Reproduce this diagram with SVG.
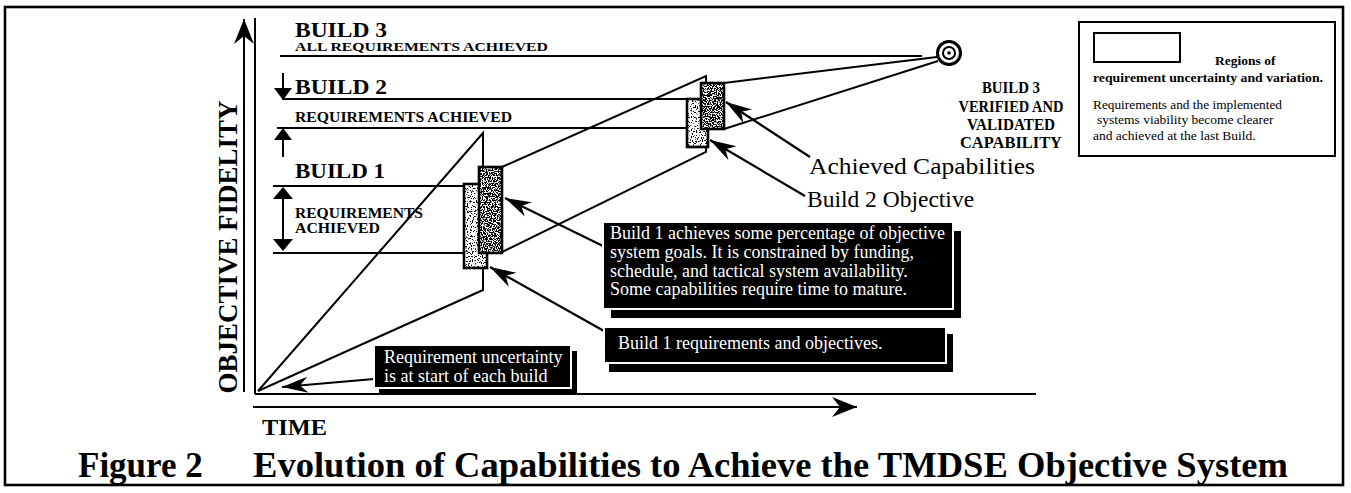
<svg xmlns="http://www.w3.org/2000/svg" width="1351" height="493" viewBox="0 0 1351 493">
  <defs>
    <style>
      .ln { stroke: #000; stroke-width: 2; fill: none; }
      .thick { stroke: #000; stroke-width: 2.6; fill: none; }
      .hd { font-family: "Liberation Serif", "Times New Roman", serif; font-weight: bold; fill: #000; }
      .rg { font-family: "Liberation Serif", "Times New Roman", serif; fill: #000; }
      .wt { font-family: "Liberation Serif", "Times New Roman", serif; fill: #fff; font-size: 18px; }
      .box { fill: #000; }
      .call { stroke: #000; stroke-width: 2.2; fill: none; marker-end: url(#barb); }
    </style>
    <!-- swept-back arrowhead used by axes and callouts -->
    <marker id="barb" viewBox="-27 -10 29 20" refX="0" refY="0" markerWidth="29" markerHeight="20" markerUnits="userSpaceOnUse" orient="auto">
      <path d="M0,0 L-26,-8 L-18,0 L-26,8 Z" fill="#000"/>
    </marker>
    <marker id="axisHead" viewBox="-27 -11 29 22" refX="0" refY="0" markerWidth="29" markerHeight="22" markerUnits="userSpaceOnUse" orient="auto">
      <path d="M0,0 L-25,-10 L-17,0 L-25,10 Z" fill="#000"/>
    </marker>
    <!-- stipple textures for uncertainty regions -->
    <filter id="grainDark" x="0" y="0" width="1" height="1" color-interpolation-filters="sRGB">
      <feTurbulence type="fractalNoise" baseFrequency="0.8" numOctaves="1" seed="7" result="n"/>
      <feColorMatrix in="n" type="matrix" values="0 0 0 0 0  0 0 0 0 0  0 0 0 0 0  16 0 0 0 -7.3" result="d"/>
      <feComposite in="d" in2="SourceAlpha" operator="in"/>
    </filter>
    <filter id="grainLight" x="0" y="0" width="1" height="1" color-interpolation-filters="sRGB">
      <feTurbulence type="fractalNoise" baseFrequency="0.8" numOctaves="1" seed="3" result="n"/>
      <feColorMatrix in="n" type="matrix" values="0 0 0 0 0  0 0 0 0 0  0 0 0 0 0  16 0 0 0 -9" result="d"/>
      <feComposite in="d" in2="SourceAlpha" operator="in"/>
    </filter>
  </defs>

  <rect width="1351" height="493" fill="#fff"/>

  <!-- page frame -->
  <rect id="frame" x="5" y="7" width="1338" height="478" class="thick"/>

  <!-- axes -->
  <g id="axes">
    <line x1="244" y1="392" x2="244" y2="19" class="ln" marker-end="url(#axisHead)"/>
    <line x1="255" y1="18" x2="255" y2="394" class="ln"/>
    <line x1="255" y1="394" x2="1036" y2="394" class="ln"/>
    <line x1="253" y1="407" x2="857" y2="407" class="ln" marker-end="url(#axisHead)"/>
    <text class="hd" font-size="27" text-anchor="middle" textLength="293" lengthAdjust="spacingAndGlyphs" transform="translate(237,247) rotate(-90)">OBJECTIVE FIDELITY</text>
    <text class="hd" x="262" y="435" font-size="23" textLength="65" lengthAdjust="spacingAndGlyphs">TIME</text>
  </g>

  <!-- connectors: requirement levels, build trajectories, callouts -->
  <g id="connectors">
    <line x1="280" y1="56" x2="922" y2="56" class="ln"/>
    <line x1="282" y1="99" x2="687" y2="99" class="ln"/>
    <line x1="277" y1="128" x2="687" y2="128" class="ln"/>
    <line x1="273" y1="186" x2="464" y2="186" class="ln"/>
    <line x1="273" y1="253" x2="464" y2="253" class="ln"/>

    <!-- build 2 range markers -->
    <line x1="283" y1="73" x2="283" y2="89" class="ln"/>
    <path d="M274,88 L292,88 L283,100 Z" fill="#000"/>
    <line x1="283" y1="139" x2="283" y2="157" class="ln"/>
    <path d="M274,140 L292,140 L283,128 Z" fill="#000"/>
    <!-- build 1 range marker -->
    <line x1="283" y1="196" x2="283" y2="242" class="ln"/>
    <path d="M273,199 L293,199 L283,187 Z" fill="#000"/>
    <path d="M273,239 L293,239 L283,251 Z" fill="#000"/>

    <!-- trajectories -->
    <polyline points="258,391 483,133 483,167" class="ln"/>
    <polyline points="258,391 483,290 483,268" class="ln"/>
    <polyline points="502,167 706,76 706,83" class="ln"/>
    <polyline points="502,252 706,152 706,147" class="ln"/>
    <line x1="724" y1="83" x2="937" y2="57" class="ln"/>
    <line x1="724" y1="129" x2="938" y2="61" class="ln"/>

    <!-- callout arrows -->
    <line x1="810" y1="157" x2="726" y2="102" class="call"/>
    <line x1="805" y1="196" x2="710" y2="140" class="call"/>
    <line x1="603" y1="246" x2="505" y2="198" class="call"/>
    <line x1="604" y1="331" x2="490" y2="267" class="call"/>
    <line x1="374" y1="379" x2="282" y2="387" class="call"/>
  </g>

  <!-- level labels -->
  <g id="build3-level">
    <text class="hd" x="295" y="37" font-size="20" textLength="92" lengthAdjust="spacingAndGlyphs">BUILD 3</text>
    <text class="hd" x="295" y="51" font-size="13.5" textLength="253" lengthAdjust="spacingAndGlyphs">ALL REQUIREMENTS ACHIEVED</text>
  </g>
  <g id="build2-level">
    <text class="hd" x="295" y="94" font-size="22" textLength="92" lengthAdjust="spacingAndGlyphs">BUILD 2</text>
    <text class="hd" x="295" y="122" font-size="15" textLength="217" lengthAdjust="spacingAndGlyphs">REQUIREMENTS ACHIEVED</text>
  </g>
  <g id="build1-level">
    <text class="hd" x="295" y="178" font-size="22" textLength="90" lengthAdjust="spacingAndGlyphs">BUILD 1</text>
    <text class="hd" x="295" y="218" font-size="14.5" textLength="128" lengthAdjust="spacingAndGlyphs">REQUIREMENTS</text>
    <text class="hd" x="295" y="233" font-size="14.5" textLength="85" lengthAdjust="spacingAndGlyphs">ACHIEVED</text>
  </g>

  <!-- build 1 uncertainty regions -->
  <g id="build1-regions">
    <rect x="464" y="184" width="23" height="84" fill="#fff"/>
    <rect x="464" y="184" width="23" height="84" class="box" filter="url(#grainLight)"/>
    <rect x="464" y="184" width="23" height="84" class="thick"/>
    <rect x="479" y="167" width="23" height="86" fill="#fff"/>
    <rect x="479" y="167" width="23" height="86" class="box" filter="url(#grainDark)"/>
    <rect x="479" y="167" width="23" height="86" class="thick"/>
  </g>

  <!-- build 2 uncertainty regions -->
  <g id="build2-regions">
    <rect x="687" y="99" width="21" height="48" fill="#fff"/>
    <rect x="687" y="99" width="21" height="48" class="box" filter="url(#grainLight)"/>
    <rect x="687" y="99" width="21" height="48" class="thick"/>
    <rect x="701" y="83" width="23" height="46" fill="#fff"/>
    <rect x="701" y="83" width="23" height="46" class="box" filter="url(#grainDark)"/>
    <rect x="701" y="83" width="23" height="46" class="thick"/>
  </g>

  <!-- build 3 target -->
  <g id="build3-target">
    <circle cx="949" cy="53" r="11.5" fill="#fff" stroke="#000" stroke-width="3"/>
    <circle cx="949" cy="53" r="6" fill="#fff" stroke="#000" stroke-width="2"/>
    <circle cx="949" cy="53" r="1.8" fill="#000"/>
  </g>
  <g id="build3-label">
    <text class="hd" x="1011" y="93" font-size="17.5" text-anchor="middle" textLength="58" lengthAdjust="spacingAndGlyphs">BUILD 3</text>
    <text class="hd" x="1011" y="112" font-size="17.5" text-anchor="middle" textLength="105" lengthAdjust="spacingAndGlyphs">VERIFIED AND</text>
    <text class="hd" x="1011" y="130" font-size="17.5" text-anchor="middle" textLength="88" lengthAdjust="spacingAndGlyphs">VALIDATED</text>
    <text class="hd" x="1011" y="148" font-size="17.5" text-anchor="middle" textLength="102" lengthAdjust="spacingAndGlyphs">CAPABILITY</text>
  </g>

  <!-- callout labels -->
  <g id="achieved-label">
    <text class="rg" x="809" y="174" font-size="23.5" textLength="226" lengthAdjust="spacingAndGlyphs">Achieved Capabilities</text>
  </g>
  <g id="objective-label">
    <text class="rg" x="807" y="207" font-size="23.5">Build 2 Objective</text>
  </g>

  <g id="build1-note">
    <rect x="611" y="231" width="350" height="87" class="box"/>
    <rect x="603" y="222" width="350" height="87" class="box" stroke="#fff" stroke-width="2"/>
    <text class="wt" x="610" y="239" font-size="18.3">Build 1 achieves some percentage of objective</text>
    <text class="wt" x="610" y="258" font-size="18.3">system goals.  It is constrained by funding,</text>
    <text class="wt" x="610" y="277" font-size="18.3">schedule, and tactical system availability.</text>
    <text class="wt" x="610" y="295" font-size="18.3">Some capabilities require time to mature.</text>
  </g>

  <g id="build1-req-note">
    <rect x="609" y="334" width="344" height="38" class="box"/>
    <rect x="604" y="327" width="342" height="36" class="box" stroke="#fff" stroke-width="2"/>
    <text class="wt" x="618" y="349">Build 1 requirements and objectives.</text>
  </g>

  <g id="uncertainty-note">
    <rect x="379" y="351" width="198" height="43" class="box"/>
    <rect x="374" y="345" width="197" height="43" class="box" stroke="#fff" stroke-width="2"/>
    <text class="wt" x="384" y="363">Requirement uncertainty</text>
    <text class="wt" x="384" y="382">is at start of each build</text>
  </g>

  <!-- legend -->
  <g id="legend">
    <rect x="1079" y="22" width="256" height="134" class="ln"/>
    <rect x="1094" y="33" width="86" height="29" class="ln"/>
    <text class="hd" x="1215" y="65" font-size="13.5">Regions of</text>
    <text class="hd" x="1093" y="82" font-size="13.5" textLength="230" lengthAdjust="spacingAndGlyphs">requirement uncertainty and variation.</text>
    <text class="rg" x="1093" y="109" font-size="13.5" textLength="189" lengthAdjust="spacingAndGlyphs">Requirements and the implemented</text>
    <text class="rg" x="1097" y="124" font-size="13.5">systems viability become clearer</text>
    <text class="rg" x="1093" y="140" font-size="13.5">and achieved at the last Build.</text>
  </g>

  <!-- caption -->
  <g id="caption">
    <text class="hd" x="78" y="477" font-size="35">Figure 2</text>
    <text class="hd" x="253" y="477" font-size="35" textLength="1035" lengthAdjust="spacingAndGlyphs">Evolution of Capabilities to Achieve the TMDSE Objective System</text>
  </g>
</svg>
